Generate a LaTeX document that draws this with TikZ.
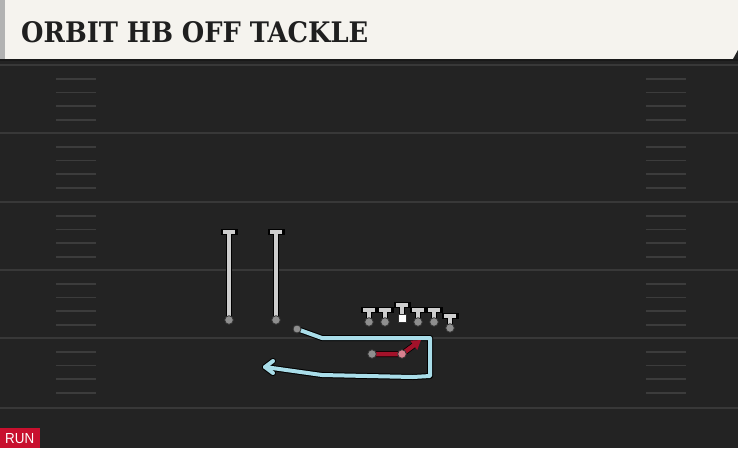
\documentclass[tikz,border=0pt]{standalone}
\usepackage{fontspec}
\newfontfamily\titlefont{DejaVu Serif}
\newfontfamily\tagfont{Liberation Sans}
\usetikzlibrary{arrows.meta,calc}
\definecolor{field}{HTML}{232323}
\definecolor{cream}{HTML}{F5F3EE}
\definecolor{yardline}{HTML}{383838}
\definecolor{hashmark}{HTML}{3C3C3C}
\definecolor{routeblue}{HTML}{A9DDE9}
\definecolor{routered}{HTML}{A3122A}
\definecolor{runred}{HTML}{C8102E}
\definecolor{blockgrey}{HTML}{CDCDCD}
\definecolor{dotgrey}{HTML}{8E8E8E}
\definecolor{dotpink}{HTML}{D7818F}

\begin{document}
\begin{tikzpicture}[x=1pt,y=-1pt,
	yard/.style={yardline,line width=2pt},
	hash/.style={hashmark,line width=1.5pt},
	rim/.style={black,line width=6pt,line cap=round,line join=round},
	blk/.style={blockgrey,line width=4pt,line cap=round},
	hbroute/.style={routeblue,line width=4pt,line cap=round,line join=round},
	qbroute/.style={routered,line width=4.5pt,line cap=round,line join=round},
	spot/.style={fill=dotgrey,draw=black!80,line width=0.8pt}]
				  \useasboundingbox (0,0) rectangle (738,448);
				  \fill[field] (0,59) rectangle (738,448);
				  \fill[cream] (4,0) rectangle (738,59);
				  \fill[black!30] (0,0) rectangle (5,59);
				  \fill[field] (733,59) -- (738,50) -- (738,59) -- cycle;
				  \fill[black!90] (0,58.5) rectangle (738,61);
				  \node[anchor=south west,inner sep=0pt,text=black!88] (title) at (21,43) {\resizebox{347pt}{21pt}{\titlefont\bfseries ORBIT HB OFF TACKLE}};

				  \foreach \t in {65,133,202,270,338} {
				  	\foreach \d in {14,27.5,41,55} {
				  		\draw[hash] (56,\t+\d) -- (96,\t+\d);
				  		\draw[hash] (646,\t+\d) -- (686,\t+\d);
				  	}
				  }
				  \foreach \t in {65,133,202,270,338,408}
				  	\draw[yard] (0,\t) -- (738,\t);

				  \coordinate (W1) at (229,320);
				  \coordinate (W1t) at (229,232);
				  \coordinate (W2) at (276,320);
				  \coordinate (W2t) at (276,232);
				  \foreach \w in {W1,W2} {
				  	\draw[rim] (\w) -- (\w t);
				  	\draw[rim,line cap=rect] ($(\w t)+(-5.5,0)$) -- ($(\w t)+(5.5,0)$);
				  	\draw[blk] (\w) -- (\w t);
				  	\draw[blk,line cap=butt] ($(\w t)+(-6,0)$) -- ($(\w t)+(6,0)$);
				  	\draw[spot] (\w) circle (4.3);
				  }

				  \foreach \n/\x/\y in {LT/369/322,LG/385/322,RG/418/322,RT/434/322,TE/450/328} {
				  	\coordinate (\n) at (\x,\y);
				  	\draw[rim] (\n) -- ++(0,-12);
				  	\draw[rim,line cap=rect] ($(\n)+(-5.5,-12)$) -- ++(11,0);
				  	\draw[blk] (\n) -- ++(0,-12);
				  	\draw[blk,line cap=butt] ($(\n)+(-6,-12)$) -- ++(12,0);
				  	\draw[spot] (\n) circle (4.3);
				  }
				  \coordinate (C) at (402,318);
				  \draw[rim] (C) -- ++(0,-13);
				  \draw[rim,line cap=rect] ($(C)+(-5.5,-13)$) -- ++(11,0);
				  \draw[blk] (C) -- ++(0,-13);
				  \draw[blk,line cap=butt] ($(C)+(-6,-13)$) -- ++(12,0);
				  \filldraw[fill=white,draw=black!80,line width=0.8pt] ($(C)+(-4,-4)$) rectangle ($(C)+(4,4)$);

				  \coordinate (H) at (297,329);
				  \coordinate (H1) at (322,338);
				  \coordinate (H2) at (430,338);
				  \coordinate (H3) at (430,376);
				  \coordinate (H4) at (413,377);
				  \coordinate (H5) at (322,375);
				  \coordinate (H6) at (265,367);
				  \coordinate (Ha) at (273,361);
				  \coordinate (Hb) at (273,373);
				  \draw[rim] (H) -- (H1) -- (H2) -- (H3) -- (H4) -- (H5) -- (H6);
				  \draw[rim] (Ha) -- (H6) -- (Hb);
				  \draw[hbroute] (H) -- (H1) -- (H2) -- (H3) -- (H4) -- (H5) -- (H6);
				  \draw[hbroute] (Ha) -- (H6) -- (Hb);
				  \draw[spot] (H) circle (4);

				  \coordinate (Q) at (372,354);
				  \coordinate (Q1) at (402,354);
				  \coordinate (Q2) at (421,340);
				  \draw[rim] (Q) -- (Q1) -- ($(Q1)!0.6!(Q2)$);
				  \draw[qbroute,-{Triangle[length=9pt,width=11pt]}] (Q) -- (Q1) -- (Q2);
				  \draw[spot] (Q) circle (4.3);
				  \draw[spot,fill=dotpink] (Q1) circle (4.3);

				  \fill[runred] (0,428) rectangle (40,448);
				  \node[anchor=south west,inner sep=0pt,text=white] (run) at (5,444) {\resizebox{29pt}{10pt}{\tagfont RUN}};
\end{tikzpicture}
\end{document}
